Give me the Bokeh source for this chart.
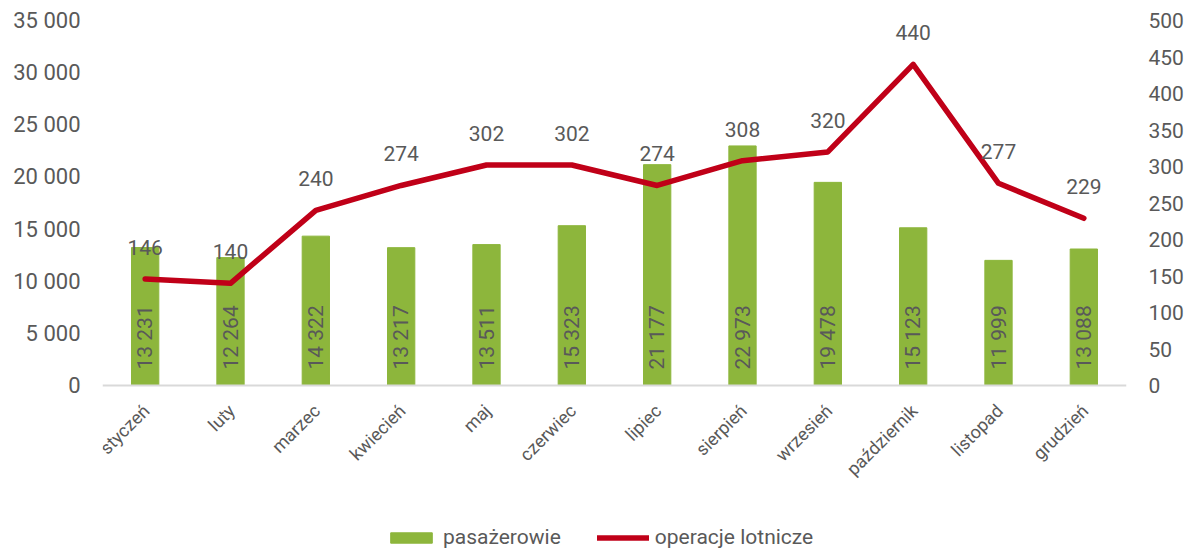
import math
from bokeh.plotting import figure
from bokeh.models import (ColumnDataSource, Range1d, LinearAxis, FixedTicker,
                          Legend, LegendItem, FactorRange, Span)
from bokeh.core.properties import value
from bokeh.embed import file_html
from bokeh.resources import INLINE

months = ["styczeń", "luty", "marzec", "kwiecień", "maj", "czerwiec", "lipiec",
          "sierpień", "wrzesień", "październik", "listopad", "grudzień"]
passengers = [13231, 12264, 14322, 13217, 13511, 15323, 21177, 22973, 19478,
              15123, 11999, 13088]
operations = [146, 140, 240, 274, 302, 302, 274, 308, 320, 440, 277, 229]
left_ticks = [0, 5000, 10000, 15000, 20000, 25000, 30000, 35000]
right_ticks = [0, 50, 100, 150, 200, 250, 300, 350, 400, 450, 500]

FONT = "Roboto"
TXT = "#595959"
FS = "21px"

# layout: value area is 365px tall, extra 164px below zero holds the
# category labels and the legend (kept inside the frame so nothing is clipped)
AREA_PX = 365
BELOW_PX = 164
L_MAX, R_MAX = 35000, 500
L_MIN = -BELOW_PX * L_MAX / AREA_PX
R_MIN = -BELOW_PX * R_MAX / AREA_PX

def fmt(v):
    return f"{v:,}".replace(",", " ")

src = ColumnDataSource(dict(
    month=months, pas=passengers, ops=operations,
    pas_lbl=[fmt(v) for v in passengers],
    ops_lbl=[str(v) for v in operations],
    zero=[0] * len(months),
))

p = figure(x_range=FactorRange(*months, range_padding=0), y_range=Range1d(L_MIN, L_MAX),
           frame_width=1024, frame_height=AREA_PX + BELOW_PX,
           output_backend="svg", toolbar_location=None,
           min_border_left=102, min_border_right=62, min_border_top=20,
           min_border_bottom=0)
p.outline_line_color = None
p.xgrid.visible = False
p.ygrid.visible = False
p.xaxis.visible = False
p.extra_y_ranges = {"ops": Range1d(R_MIN, R_MAX)}

p.add_layout(Span(location=0, dimension="width", line_color="#D9D9D9", line_width=2))

bars = p.vbar(x="month", top="pas", bottom=0, width=0.32, source=src, color="#8DB63C")
line = p.line(x="month", y="ops", source=src, y_range_name="ops",
              line_color="#C00018", line_width=5.5, line_join="round", line_cap="round")

p.text(x="month", y="zero", text="pas_lbl", source=src, angle=math.pi / 2,
       text_align="left", text_baseline="middle", y_offset=-16,
       text_font=value(FONT), text_font_size=FS, text_color=TXT)
p.text(x="month", y="ops", text="ops_lbl", source=src, y_range_name="ops",
       text_align="center", text_baseline="bottom", y_offset=-24,
       text_font=value(FONT), text_font_size=FS, text_color=TXT)
# category labels
p.text(x="month", y="zero", text="month", source=src, angle=math.pi / 4,
       text_align="right", text_baseline="middle", x_offset=1, y_offset=22,
       text_font=value(FONT), text_font_size="18px", text_color=TXT)

# left axis
ya = p.yaxis[0]
ya.ticker = FixedTicker(ticks=left_ticks)
ya.major_label_overrides = {t: fmt(t) for t in left_ticks}
ya.axis_line_color = None
ya.major_tick_line_color = None
ya.minor_tick_line_color = None
ya.major_label_text_font = FONT
ya.major_label_text_font_size = "22px"
ya.major_label_text_color = TXT
ya.major_label_standoff = 16

# right axis
ra = LinearAxis(y_range_name="ops", ticker=FixedTicker(ticks=right_ticks))
ra.axis_line_color = None
ra.major_tick_line_color = None
ra.minor_tick_line_color = None
ra.major_label_text_font = FONT
ra.major_label_text_font_size = FS
ra.major_label_text_color = TXT
ra.major_label_standoff = 16
p.add_layout(ra, "right")

legend = Legend(items=[LegendItem(label="pasażerowie", renderers=[bars]),
                       LegendItem(label="operacje lotnicze", renderers=[line])],
                orientation="horizontal", location=(283, 0),
                border_line_color=None, background_fill_alpha=0,
                label_text_font=FONT, label_text_font_size=FS,
                label_text_color=TXT, glyph_width=52, glyph_height=13,
                label_height=20, spacing=36, label_standoff=6, margin=0, padding=0)
p.add_layout(legend, "center")

open("out.html", "w").write(file_html(p, INLINE))
